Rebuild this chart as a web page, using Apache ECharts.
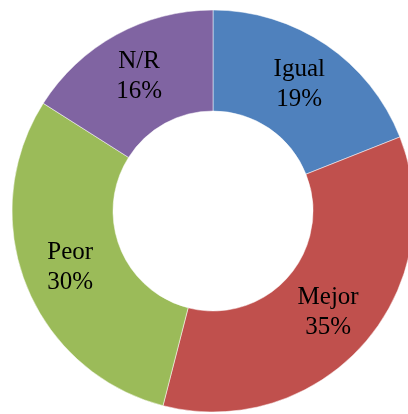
<!DOCTYPE html>
<html>
<head>
<meta charset="utf-8">
<script src="https://cdn.jsdelivr.net/npm/echarts@6/dist/echarts.min.js"></script>
<style>html,body{margin:0;padding:0;background:#fff;}#c{width:408px;height:414px;}</style>
</head>
<body>
<div id="c"></div>
<script>
var categories = ['Igual', 'Mejor', 'Peor', 'N/R'];
var values = [19, 35, 30, 16];
var colors = ['#4F81BD', '#C0504D', '#9BBB59', '#8064A2'];

var chart = echarts.init(document.getElementById('c'), null, {renderer: 'canvas'});
chart.setOption({
  animation: false,
  backgroundColor: '#ffffff',
  series: [{
    type: 'pie',
    center: [213, 211],
    radius: [100, 201],
    startAngle: 90,
    clockwise: true,
    avoidLabelOverlap: false,
    itemStyle: {borderColor: '#ffffff', borderWidth: 0.5},
    label: {
      show: true,
      position: 'inside',
      formatter: function (p) { return p.name + '\n' + p.value + '%'; },
      fontFamily: '"Liberation Serif", "Times New Roman", serif',
      fontSize: 25,
      lineHeight: 30,
      color: '#000000'
    },
    labelLine: {show: false},
    emphasis: {disabled: true},
    data: categories.map(function (c, i) {
      return {name: c, value: values[i], itemStyle: {color: colors[i]}};
    })
  }]
});
</script>
</body>
</html>
